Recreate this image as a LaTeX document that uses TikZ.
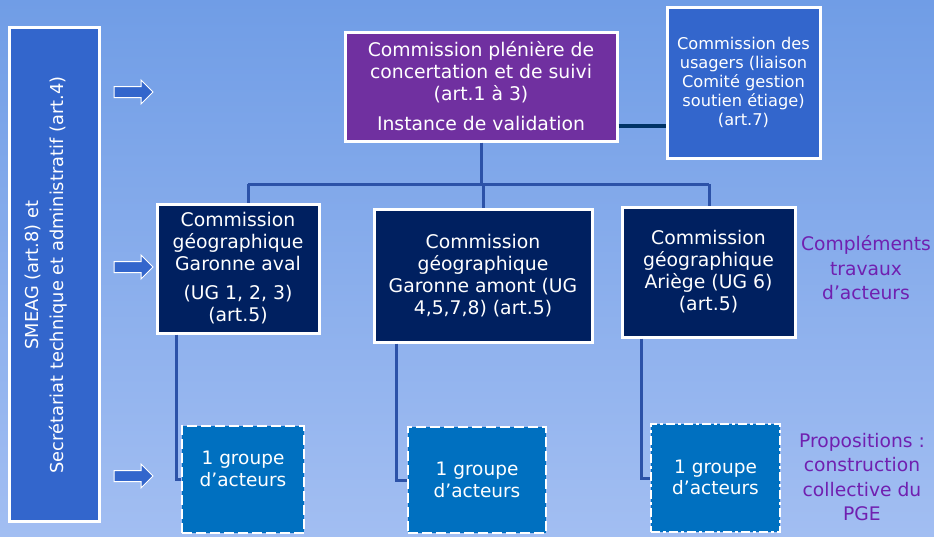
\documentclass[tikz,border=0pt]{standalone}
\usepackage{fontspec}
\setmainfont{DejaVu Sans}
\definecolor{bgtop}{RGB}{112,157,230}
\definecolor{bgbot}{RGB}{162,190,242}
\definecolor{midblue}{RGB}{51,102,204}
\definecolor{navy}{RGB}{0,32,96}
\definecolor{purp}{RGB}{112,48,160}
\definecolor{grpblue}{RGB}{0,112,192}
\definecolor{linkblue}{RGB}{44,82,168}
\definecolor{darklink}{RGB}{0,51,102}
\definecolor{txtpurp}{RGB}{112,32,176}
\tikzset{
  boxbase/.style={draw=white, line width=3pt, text=white, align=center, inner sep=0pt},
  leftbox/.style={boxbase, fill=midblue},
  purpbox/.style={boxbase, fill=purp},
  navybox/.style={boxbase, fill=navy},
  grpbox/.style={boxbase, fill=grpblue, line width=2.8pt, dash pattern=on 10pt off 4pt},
  grptxt/.style={text=white, align=center, inner sep=0pt, font=\fontsize{18.5}{21.5}\selectfont},
  blockarrow/.style={draw=white, line width=1pt, fill=midblue, line join=miter},
  link/.style={draw=linkblue, line width=3pt},
  darkline/.style={draw=darklink, line width=4pt},
  sidetxt/.style={text=txtpurp, align=center, font=\fontsize{18.7}{24.5}\selectfont},
  mainfont/.style={font=\fontsize{18.8}{22}\selectfont},
}
\newcommand{\blockarr}[2]{%
  \draw[blockarrow] (#1,#2-5.5) -- (#1+27,#2-5.5) -- (#1+27,#2-12) -- (#1+39,#2) -- (#1+27,#2+12) -- (#1+27,#2+5.5) -- (#1,#2+5.5) -- cycle;}
\begin{document}
\begin{tikzpicture}[x=1pt,y=-1pt]
\shade[top color=bgtop, bottom color=bgbot] (0,0) rectangle (934,536);
\useasboundingbox (0,0) rectangle (934,536);

% left vertical box
\node[leftbox, minimum width=494pt, minimum height=90pt, rotate=90] (smeag) at (54,274) {};
\node[text=white, align=center, rotate=90, inner sep=0pt, font=\fontsize{17.8}{25}\selectfont] (smeagtxt) at (46,275)
  {SMEAG (art.8) et\\Secrétariat technique et administratif (art.4)};

% arrows
\blockarr{114}{92}
\blockarr{114}{267}
\blockarr{114}{476}

% top boxes
\node[purpbox, minimum width=272pt, minimum height=109pt, mainfont] (pleniere) at (481,86.5)
  {Commission plénière de\\concertation et de suivi\\(art.1 à 3)\\[8pt]Instance de validation};
\node[leftbox, minimum width=153pt, minimum height=151pt, font=\fontsize{16.2}{19.2}\selectfont] (usagers) at (743.5,82.5)
  {Commission des\\usagers (liaison\\Comité gestion\\soutien étiage)\\(art.7)};

% commissions
\node[navybox, minimum width=162pt, minimum height=129pt, mainfont] (aval) at (238,268.5)
  {Commission\\géographique\\Garonne aval\\[7pt](UG 1, 2, 3)\\(art.5)};
\node[navybox, minimum width=218pt, minimum height=133pt, mainfont] (amont) at (483,275.5)
  {Commission\\géographique\\Garonne amont (UG\\4,5,7,8) (art.5)};
\node[navybox, minimum width=173pt, minimum height=130pt, mainfont] (ariege) at (708.5,272)
  {Commission\\géographique\\Ariège (UG 6)\\(art.5)};

% groups
\node[grpbox, minimum width=122pt, minimum height=107pt] (g1) at (243,479.5) {};
\node[grptxt] (g1txt) at (243,469) {1 groupe\\d’acteurs};
\node[grpbox, minimum width=138pt, minimum height=106pt] (g2) at (477,480) {};
\node[grptxt] (g2txt) at (477,480) {1 groupe\\d’acteurs};
\node[grpbox, dash pattern=on 9pt off 3pt on 3pt off 3pt, minimum width=129pt, minimum height=108pt] (g3) at (715.5,478) {};
\node[grptxt] (g3txt) at (715.5,477.5) {1 groupe\\d’acteurs};

% side texts
\node[sidetxt] (compl) at (866,268) {Compléments\\travaux\\d’acteurs};
\node[sidetxt] (prop) at (862,477) {Propositions :\\construction\\collective du\\PGE};

% connectors
\coordinate (j1) at (0,126);
\draw[darkline] (pleniere.east |- j1) -- (usagers.west |- j1);

\coordinate (b1) at (248,184);
\coordinate (b3) at (709,184);
\draw[link] (pleniere.south) -- (pleniere.south |- b1);
\draw[link] (b1) -- (b3);
\draw[link] (b1) -- (b1 |- aval.north);
\draw[link] (amont.north |- b1) -- (amont.north);
\draw[link] (b3) -- (b3 |- ariege.north);

\coordinate (k1) at (176,0);
\coordinate (k2) at (396,0);
\coordinate (k3) at (641,0);
\draw[link] (k1 |- aval.south) |- (g1.west);
\draw[link] (k2 |- amont.south) |- (g2.west);
\draw[link] (k3 |- ariege.south) |- (g3.west);
\end{tikzpicture}
\end{document}
